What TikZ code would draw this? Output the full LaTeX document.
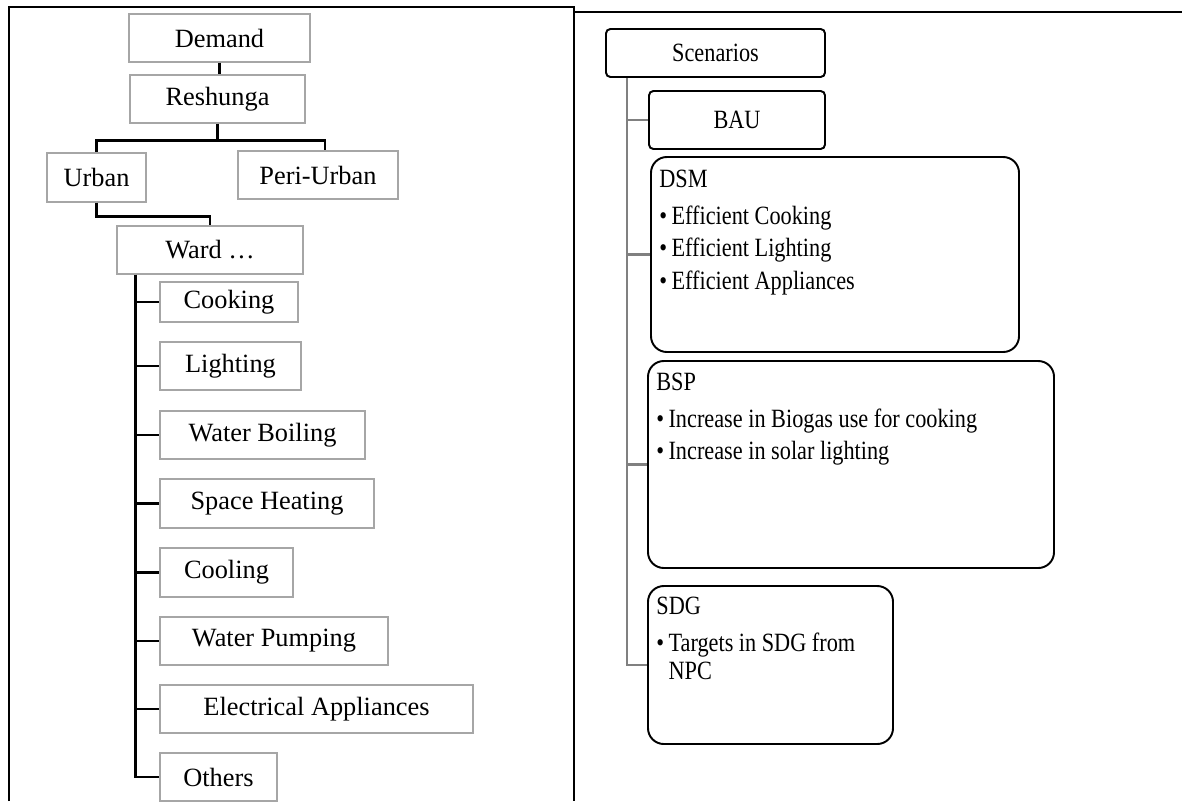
\documentclass[tikz,border=0pt]{standalone}
\usepackage{fontspec}
\setmainfont{Liberation Serif}
\newfontfamily\narrowserif[FakeStretch=0.845]{Liberation Serif}
\usetikzlibrary{calc}
\def\pu{0.02cm}
\def\bul{•\kern2.5pt}
\tikzset{
  dembox/.style={draw=gray!70,line width=0.6pt,inner sep=0pt,font=\fontsize{15}{18}\selectfont},
  scnbox/.style={draw=black,line width=1.1pt,rounded corners=2.5pt,inner sep=0pt,font=\narrowserif\fontsize{15}{18}\selectfont},
  bigbox/.style={scnbox,rounded corners=9pt},
  boxsize/.style 2 args={minimum width=#1*\pu,minimum height=#2*\pu},
  listtext/.style={anchor=north west,align=left,inner sep=0pt,font=\narrowserif\fontsize{15}{18.5}\selectfont},
  demlink/.style={line width=1.3pt,black},
  scnlink/.style={line width=1.5pt,gray},
  tableline/.style={line width=0.8pt,black}
}

\begin{document}
\begin{tikzpicture}[x=0.02cm,y=-0.02cm]
  \useasboundingbox (0,0) rectangle (1182,801);
  \draw[tableline] (9,801) -- (9,7) -- (574,7) -- (574,801);
  \draw[tableline] (574,12) -- (1182,12);

  % demand tree
  \node[dembox,boxsize={181}{48}] (demand)     at (219.5,38)  {Demand};
  \node[dembox,boxsize={175}{48}] (reshunga)   at (217.5,99)  {Reshunga};
  \node[dembox,boxsize={99}{49}]  (urban)      at (96.5,177.5) {Urban};
  \node[dembox,boxsize={160}{48}] (periurban)  at (318,175)   {Peri-Urban};
  \node[dembox,boxsize={186}{48}] (ward)       at (210,250)   {Ward …};
  \node[dembox,boxsize={138}{40}] (cooking)    at (229,302)   {Cooking};
  \node[dembox,boxsize={141}{48}] (lighting)   at (230.5,366) {Lighting};
  \node[dembox,boxsize={205}{48}] (boiling)    at (262.5,435) {Water Boiling};
  \node[dembox,boxsize={214}{49}] (heating)    at (267,503.5) {Space Heating};
  \node[dembox,boxsize={133}{49}] (cooling)    at (226.5,572.5) {Cooling};
  \node[dembox,boxsize={228}{48}] (pumping)    at (274,641)   {Water Pumping};
  \node[dembox,boxsize={313}{48}] (appliances) at (316.5,709) {Electrical Appliances};
  \node[dembox,boxsize={117}{48}] (others)     at (218.5,777) {Others};

  \draw[demlink] (demand.south) -- (demand.south |- reshunga.north);
  \coordinate (rfork) at ($(reshunga.south)+(0,17)$);
  \draw[demlink] (reshunga.south) -- (rfork) -| (urban.north);
  \draw[demlink] (rfork) -| ($(periurban.north)+(7,0)$);
  \draw[demlink] (urban.south) -- ++(0,14) -| (ward.north);
  \coordinate (wspine) at ($(ward.south west)+(19,0)$);
  \draw[demlink] (wspine) |- (others.west);
  \foreach \n in {cooking,lighting,boiling,heating,cooling,pumping,appliances}
    \draw[demlink] (wspine |- \n.west) -- (\n.west);

  % scenarios
  \node[scnbox,boxsize={219}{48}] (scenarios) at (715.5,53) {Scenarios};
  \node[scnbox,boxsize={176}{58}] (bau)       at (737,120)  {BAU};
  \node[bigbox,boxsize={368}{195}] (dsm)      at (835,254.5) {};
  \node[bigbox,boxsize={406}{207}] (bsp)      at (851,464.5) {};
  \node[bigbox,boxsize={245}{158}] (sdg)      at (770.5,665) {};

  \node[listtext] (dsmtext) at ($(dsm.north west)+(9,13.5)$)
    {DSM\\[2.5pt]\bul Efficient Cooking\\\bul Efficient Lighting\\\bul Efficient Appliances};
  \node[listtext] (bsptext) at ($(bsp.north west)+(9,12.5)$)
    {BSP\\[2.5pt]\bul Increase in Biogas use for cooking\\\bul Increase in solar lighting};
  \node[listtext] (sdgtext) at ($(sdg.north west)+(9,11.5)$)
    {SDG\\[2.5pt]\bul Targets in SDG from\\[-2.5pt]\hphantom{\bul}NPC};

  \coordinate (sspine) at ($(scenarios.south west)+(22,0)$);
  \draw[scnlink] (sspine) |- (sdg.west);
  \foreach \n in {bau,dsm,bsp}
    \draw[scnlink] (sspine |- \n.west) -- (\n.west);
\end{tikzpicture}
\end{document}
